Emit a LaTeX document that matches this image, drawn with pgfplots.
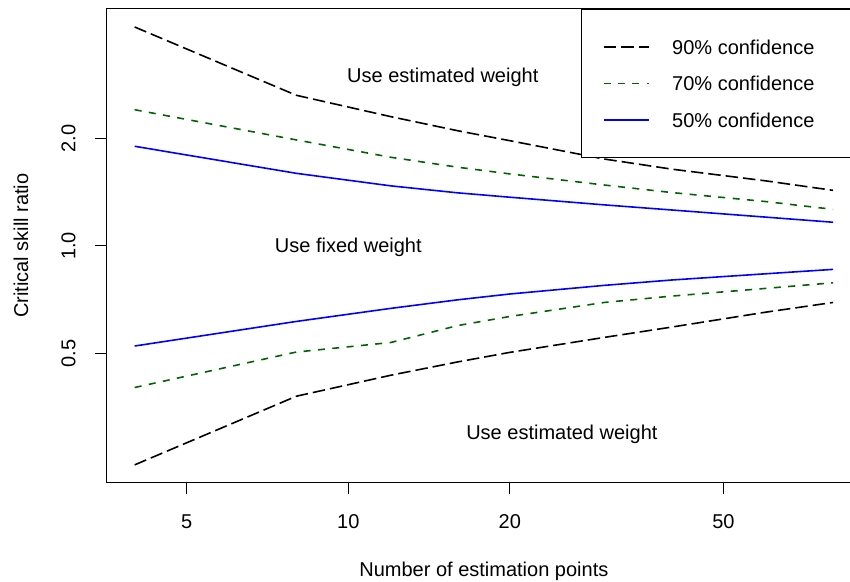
\documentclass[border=0pt]{standalone}
\usepackage{fontspec}
\setmainfont{Liberation Sans}
\usepackage{pgfplots}
\pgfplotsset{compat=1.18}
\definecolor{rgreen}{HTML}{006400}
\definecolor{rblue}{HTML}{0000FF}
\begin{document}
\begin{tikzpicture}
\begin{axis}[
  scale only axis, width=377.15pt, height=236.65pt,
  xmode=log, ymode=log,
  xmin=3.548, xmax=90.2, ymin=0.2176, ymax=4.605,
  xtick={5,10,20,50}, xticklabels={5,10,20,50},
  ytick={0.5,1,2}, yticklabels={0.5,1.0,2.0},
  minor tick num=0, minor tick style={draw=none},
  xtick pos=bottom, ytick pos=left,
  tick align=outside, major tick length=6pt,
  tick style={black, line width=0.5pt},
  axis line style={line width=0.5pt},
  /pgf/number format/assume math mode=true,
  xticklabel style={anchor=north, inner sep=0pt, text height=7.16pt, text depth=0pt},
  yticklabel style={rotate=90, anchor=south, inner sep=0pt, text height=7.16pt, text depth=0pt},
  xticklabel shift=10pt, yticklabel shift=9.5pt,
  xlabel={Number of estimation points},
  ylabel={Critical skill ratio},
  xlabel style={at={(axis description cs:0.5,-0.1995)}, anchor=base, inner sep=0pt},
  ylabel style={at={(axis description cs:-0.1037,0.5)}, anchor=south, inner sep=0pt, text depth=0pt},
  legend style={at={(rel axis cs:1,1)}, anchor=north east, draw=black, line width=0.5pt, fill=white,
    inner xsep=10.85pt, inner ysep=15.2pt, row sep=11.09pt, column sep=11pt,
    nodes={inner sep=0pt, text height=7.16pt, text depth=0pt}},
  legend cell align=left,
  legend image code/.code={\draw[#1] (0pt,0pt) -- (22.85pt,0pt);},
]
\addplot[black, line width=0.8pt, dash pattern=on 6.25pt off 2.5pt] coordinates {
 (4,4.1) (8,2.64) (12,2.30) (16,2.10) (20,1.97) (30,1.75) (40,1.64) (60,1.52) (80,1.43)};
\addlegendentry{90\% confidence\hspace*{12.15pt}}
\addplot[rgreen, line width=0.8pt, dash pattern=on 3.5pt off 3.7pt] coordinates {
 (4,2.405) (8,1.98) (12,1.77) (16,1.66) (20,1.59) (30,1.48) (40,1.41) (60,1.33) (80,1.265)};
\addlegendentry{70\% confidence\hspace*{12.15pt}}
\addplot[rblue, line width=0.8pt] coordinates {
 (4,1.90) (8,1.596) (12,1.472) (16,1.407) (20,1.368) (30,1.302) (40,1.26) (60,1.203) (80,1.164)};
\addlegendentry{50\% confidence\hspace*{12.15pt}}
\addplot[rblue, line width=0.8pt, forget plot] coordinates {
 (4,0.524) (8,0.614) (12,0.668) (16,0.706) (20,0.733) (30,0.775) (40,0.802) (60,0.835) (80,0.859)};
\addplot[rgreen, line width=0.8pt, dash pattern=on 3.5pt off 3.7pt, forget plot] coordinates {
 (4,0.401) (8,0.504) (12,0.536) (16,0.598) (20,0.634) (30,0.694) (40,0.723) (60,0.760) (80,0.788)};
\addplot[black, line width=0.8pt, dash pattern=on 6.25pt off 2.5pt, forget plot] coordinates {
 (4,0.2435) (8,0.379) (12,0.434) (16,0.473) (20,0.503) (30,0.554) (40,0.592) (60,0.652) (80,0.694)};
\node[inner sep=0pt, text height=7.16pt, text depth=0pt] at (axis cs:15,3) {Use estimated weight};
\node[inner sep=0pt, text height=7.16pt, text depth=0pt] at (axis cs:10,1) {Use fixed weight};
\node[inner sep=0pt, text height=7.16pt, text depth=0pt] at (axis cs:25,0.3) {Use estimated weight};
\end{axis}
\pgfresetboundingbox
\useasboundingbox (-53.35pt,-49.85pt) rectangle (371.65pt,241.15pt);
\end{tikzpicture}
\end{document}
